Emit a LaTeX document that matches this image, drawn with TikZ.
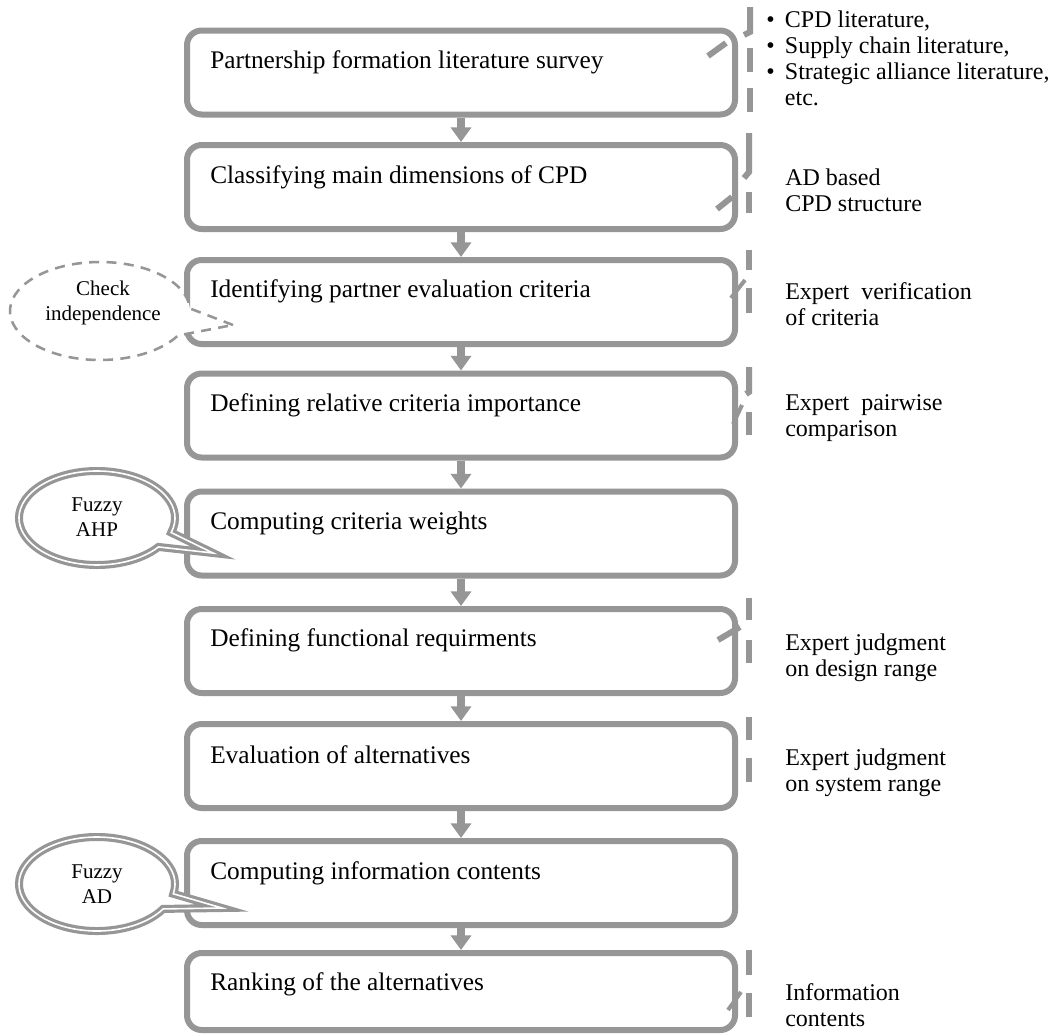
\documentclass[tikz,border=0pt]{standalone}
\usepackage{fontspec}
\setmainfont{Liberation Serif}
\usetikzlibrary{arrows.meta,calc}
\definecolor{bgray}{RGB}{150,150,150}
\begin{document}
\begin{tikzpicture}[x=0.75pt,y=0.75pt,
  box/.style={draw=bgray,line width=4.5pt,rounded corners=11pt,minimum width=411pt,minimum height=63pt,inner sep=0pt},
  btext/.style={font=\fontsize{19}{23}\selectfont,anchor=west,inner sep=0pt},
  rtext/.style={font=\fontsize{18}{19.5}\selectfont,anchor=west,inner sep=0pt,align=left},
  ctext/.style={font=\fontsize{15.75}{19}\selectfont,inner sep=0pt,align=center},
  arr/.style={draw=bgray,line width=6pt,-{Triangle[width=15pt,length=11pt]}},
  ann/.style={draw=bgray,line width=4.5pt,line cap=butt},
  dbub/.style={draw=bgray,line width=2.4pt,double=white,double distance=1.2pt,fill=white},
  cbub/.style={draw=bgray,line width=1.9pt,dash pattern=on 7.5pt off 5.5pt,fill=white}]
\fill[white] (0,0) rectangle (1055,-1035);
\useasboundingbox (0,0) rectangle (1055,-1035);

% boxes
\node[box] (b1) at (461,-72.5) {};
\node[box] (b2) at (461,-187) {};
\node[box] (b3) at (461,-302) {};
\node[box] (b4) at (461,-415.5) {};
\node[box] (b5) at (461,-533.5) {};
\node[box] (b6) at (461,-651) {};
\node[box] (b7) at (461,-766) {};
\node[box] (b8) at (461,-883) {};
\node[box,minimum height=57.75pt] (b9) at (461,-991.5) {};

% box texts
\node[btext] (t1) at (210,-62) {Partnership formation literature survey};
\node[btext] (t2) at (210,-177) {Classifying main dimensions of CPD};
\node[btext] (t3) at (210,-291) {Identifying partner evaluation criteria};
\node[btext] (t4) at (210,-405) {Defining relative criteria importance};
\node[btext] (t5) at (210,-523) {Computing criteria weights};
\node[btext] (t6) at (210,-640) {Defining functional requirments};
\node[btext] (t7) at (210,-755) {Evaluation of alternatives};
\node[btext] (t8) at (210,-873) {Computing information contents};
\node[btext] (t9) at (210,-984) {Ranking of the alternatives};

% arrows
\foreach \a/\b in {b1/b2,b2/b3,b3/b4,b4/b5,b5/b6,b6/b7,b7/b8,b8/b9}
  \draw[arr] (\a.south) -- (\b.north);

% right annotation texts
\node[rtext,font=\fontsize{18}{19.5}\selectfont] (r1) at (766,-58) {\makebox[14pt][l]{•}CPD literature,\\\makebox[14pt][l]{•}Supply chain literature,\\\makebox[14pt][l]{•}Strategic alliance literature,\\\makebox[14pt][l]{}etc.};
\node[rtext] (r2) at (785,-190) {AD based\\CPD structure};
\node[rtext] (r3) at (785,-304) {Expert\ \ verification\\of criteria};
\node[rtext] (r4) at (785,-418) {Expert\ \ pairwise\\comparison};
\node[rtext] (r6) at (785,-658) {Expert judgment\\on design range};
\node[rtext] (r7) at (785,-773) {Expert judgment\\on system range};
\node[rtext] (r9) at (785,-1005) {Information\\contents};

% right annotation callout lines
\draw[ann] (750,-7) -- (750,-32) -- (744,-35);
\draw[ann] (726,-43) -- (708,-56);
\draw[ann] (750,-48) -- (750,-72);
\draw[ann] (750,-88) -- (750,-112);

\draw[ann] (749,-133) -- (749,-172) -- (744,-178);
\draw[ann] (749,-192) -- (749,-213);
\draw[ann] (732,-197) -- (717,-209);

\draw[ann] (749,-250) -- (749,-270);
\draw[ann] (749,-288) -- (749,-313);
\draw[ann,line width=3pt] (745,-280) -- (731,-298);

\draw[ann] (749,-367) -- (749,-392) -- (746,-394);
\draw[ann] (749,-412) -- (749,-435);
\draw[ann,line width=3pt] (742,-405) -- (733,-424);

\draw[ann] (749,-598) -- (749,-620);
\draw[ann] (749,-640) -- (749,-663);
\draw[ann] (740,-627) -- (718,-640);

\draw[ann] (749,-717) -- (749,-740);
\draw[ann] (749,-758) -- (749,-782);

\draw[ann] (749,-950) -- (749,-975);
\draw[ann] (749,-993) -- (749,-1017);
\draw[ann,line width=3pt] (741,-992) -- (728,-1010);

% left callouts
\coordinate (ck) at (100,-311);
\draw[cbub] (233,-325) -- ($(ck)+(3:90 and 49)$) arc[start angle=3,end angle=330,x radius=90,y radius=49] -- cycle;
\node[ctext] (c1) at (103,-303) {Check\\independence};

\coordinate (ahp) at (97,-518);
\draw[dbub] (213,-553) -- ($(ahp)+(-18:78 and 47)$) arc[start angle=-18,end angle=322,x radius=78,y radius=47] -- cycle;
\node[ctext] (c2) at (97,-517) {Fuzzy\\AHP};

\coordinate (ad) at (97,-884);
\draw[dbub] (222,-908) -- ($(ad)+(-12:78 and 47)$) arc[start angle=-12,end angle=328,x radius=78,y radius=47] -- cycle;
\node[ctext] (c3) at (97,-884) {Fuzzy\\AD};
\end{tikzpicture}
\end{document}
